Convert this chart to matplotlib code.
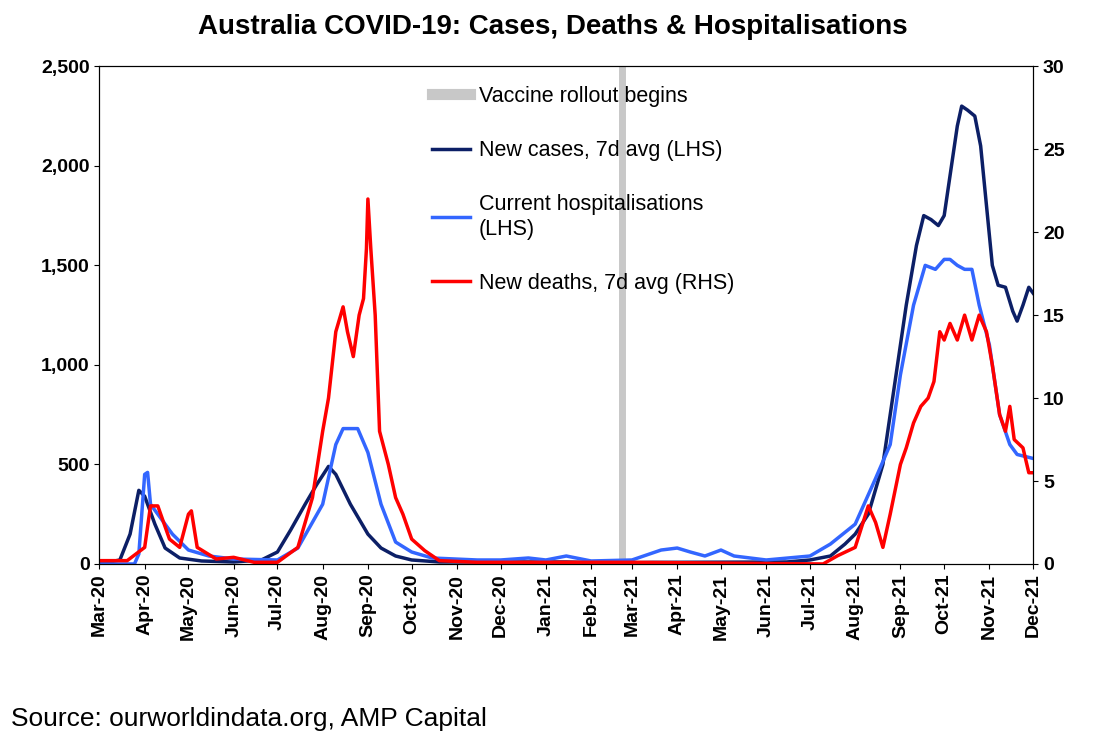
import pandas as pd
import matplotlib.pyplot as plt
import matplotlib.dates as mdates
from matplotlib.ticker import FuncFormatter

plt.rcParams['font.family'] = ['Liberation Sans', 'DejaVu Sans']

case_dates = ['2020-03-01', '2020-03-15', '2020-03-22', '2020-03-28', '2020-04-01', '2020-04-08', '2020-04-15',
              '2020-04-25', '2020-05-10', '2020-06-01', '2020-06-20', '2020-07-01', '2020-07-10', '2020-07-20',
              '2020-07-28', '2020-08-05', '2020-08-10', '2020-08-20', '2020-09-01', '2020-09-10', '2020-09-20',
              '2020-10-01', '2020-10-20', '2020-11-15', '2020-12-15', '2021-01-15', '2021-02-15', '2021-03-15',
              '2021-06-15', '2021-07-01', '2021-07-15', '2021-07-25', '2021-08-01', '2021-08-10', '2021-08-20',
              '2021-08-28', '2021-09-05', '2021-09-12', '2021-09-17', '2021-09-22', '2021-09-27', '2021-10-01',
              '2021-10-05', '2021-10-10', '2021-10-13', '2021-10-17', '2021-10-22', '2021-10-26', '2021-10-30',
              '2021-11-03', '2021-11-07', '2021-11-12', '2021-11-17', '2021-11-20', '2021-11-24', '2021-11-28',
              '2021-12-01']
cases = [0, 20, 150, 370, 340, 200, 80, 30, 15, 10, 20, 60, 170, 300, 400, 490, 450, 300, 150, 80, 40,
         20, 10, 10, 10, 10, 5, 8, 10, 20, 40, 100, 150, 250, 500, 900, 1300, 1600, 1750, 1730, 1700, 1750,
         1950, 2200, 2300, 2280, 2250, 2100, 1800, 1500, 1400, 1390, 1270, 1220, 1300, 1390, 1360]

hosp_dates = ['2020-03-01', '2020-03-25', '2020-03-28', '2020-04-01', '2020-04-03', '2020-04-05', '2020-04-12',
              '2020-04-20', '2020-05-01', '2020-05-15', '2020-06-01', '2020-07-01', '2020-07-15', '2020-08-01',
              '2020-08-10', '2020-08-15', '2020-08-25', '2020-09-01', '2020-09-10', '2020-09-20', '2020-10-01',
              '2020-10-15', '2020-11-15', '2020-12-01', '2020-12-20', '2021-01-01', '2021-01-15', '2021-02-01',
              '2021-03-01', '2021-03-21', '2021-04-01', '2021-04-10', '2021-04-20', '2021-05-01', '2021-05-10',
              '2021-06-01', '2021-07-01', '2021-07-15', '2021-08-01', '2021-08-15', '2021-08-25', '2021-09-01',
              '2021-09-10', '2021-09-18', '2021-09-25', '2021-10-01', '2021-10-05', '2021-10-10', '2021-10-15',
              '2021-10-20', '2021-10-25', '2021-11-01', '2021-11-08', '2021-11-15', '2021-11-20', '2021-12-01']
hosp = [0, 0, 50, 450, 460, 300, 230, 150, 70, 40, 25, 20, 80, 300, 600, 680, 680, 560, 300, 110, 60, 30,
        20, 20, 30, 20, 40, 15, 20, 70, 80, 60, 40, 70, 40, 20, 40, 100, 200, 430, 600, 950, 1300, 1500,
        1480, 1530, 1530, 1500, 1480, 1480, 1300, 1100, 750, 600, 550, 530]

death_dates = ['2020-03-01', '2020-03-20', '2020-04-01', '2020-04-05', '2020-04-10', '2020-04-18', '2020-04-25',
               '2020-05-01', '2020-05-03', '2020-05-07', '2020-05-20', '2020-06-01', '2020-06-15', '2020-07-01',
               '2020-07-15', '2020-07-25', '2020-08-01', '2020-08-05', '2020-08-10', '2020-08-15', '2020-08-18',
               '2020-08-22', '2020-08-26', '2020-08-29', '2020-08-31', '2020-09-01', '2020-09-03', '2020-09-06',
               '2020-09-09', '2020-09-15', '2020-09-20', '2020-09-25', '2020-10-01', '2020-10-10', '2020-10-20',
               '2020-11-15', '2021-03-01', '2021-07-10', '2021-07-20', '2021-08-01', '2021-08-10', '2021-08-15',
               '2021-08-20', '2021-08-25', '2021-09-01', '2021-09-05', '2021-09-10', '2021-09-15', '2021-09-20',
               '2021-09-24', '2021-09-28', '2021-10-01', '2021-10-05', '2021-10-10', '2021-10-15', '2021-10-20',
               '2021-10-25', '2021-10-30', '2021-11-03', '2021-11-08', '2021-11-12', '2021-11-15', '2021-11-18',
               '2021-11-24', '2021-11-28', '2021-12-01']
deaths = [0.2, 0.2, 1, 3.5, 3.5, 1.5, 1, 3, 3.2, 1, 0.3, 0.4, 0.1, 0.1, 1, 4, 8, 10, 14, 15.5, 14, 12.5,
          15, 16, 19, 22, 19, 15, 8, 6, 4, 3, 1.5, 0.8, 0.2, 0.1, 0.1, 0, 0.5, 1, 3.5, 2.5, 1, 3, 6, 7,
          8.5, 9.5, 10, 11, 14, 13.5, 14.5, 13.5, 15, 13.5, 15, 14, 12, 9, 8, 9.5, 7.5, 7, 5.5, 5.5]

vaccine_date = '2021-02-22'

fig = plt.figure(figsize=(11.05, 7.45), dpi=100)
ax = fig.add_axes([0.09, 0.243, 0.845, 0.668])
ax2 = ax.twinx()

ax.axvline(pd.Timestamp(vaccine_date), color='#c8c8c8', lw=5, label='Vaccine rollout begins')
ax.plot(pd.to_datetime(case_dates), cases, color='#0c1f66', lw=2.5, label='New cases, 7d avg (LHS)')
ax.plot(pd.to_datetime(hosp_dates), hosp, color='#3366ff', lw=2.5, label='Current hospitalisations\n(LHS)')
ax2.plot(pd.to_datetime(death_dates), deaths, color='#ff0000', lw=2.5, label='New deaths, 7d avg (RHS)')

ax.set_xlim(pd.Timestamp('2020-03-01'), pd.Timestamp('2021-12-01'))
ax.set_ylim(0, 2500)
ax2.set_ylim(0, 30)
ax.set_yticks(range(0, 2501, 500))
ax2.set_yticks(range(0, 31, 5))
ax.yaxis.set_major_formatter(FuncFormatter(lambda v, p: f'{int(v):,}'))
ax.xaxis.set_major_locator(mdates.MonthLocator())
ax.xaxis.set_major_formatter(mdates.DateFormatter('%b-%y'))
for lbl in ax.get_xticklabels():
    lbl.set_rotation(90)
for a in (ax, ax2):
    a.tick_params(labelsize=14, direction='out')
    for lbl in a.get_xticklabels() + a.get_yticklabels():
        lbl.set_fontweight('bold')

h1, l1 = ax.get_legend_handles_labels()
h2, l2 = ax2.get_legend_handles_labels()
leg = ax.legend(h1 + h2, l1 + l2, loc='upper left', bbox_to_anchor=(0.335, 1.0), frameon=False,
                fontsize=15.5, handlelength=1.8, handletextpad=0.4, labelspacing=1.55)
leg.legend_handles[0].set_linewidth(8)

fig.text(0.5, 0.955, 'Australia COVID-19: Cases, Deaths & Hospitalisations', ha='center',
         fontsize=20, fontweight='bold')
fig.text(0.01, 0.025, 'Source: ourworldindata.org, AMP Capital', fontsize=19)

fig.savefig('out.png', dpi=100)
